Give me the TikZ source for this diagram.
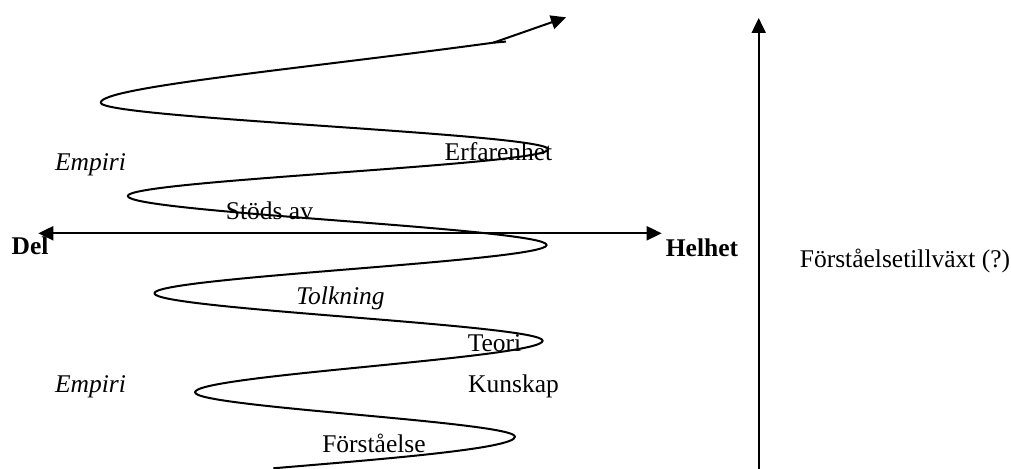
\documentclass[tikz,border=0pt]{standalone}
\usepackage{fontspec}
\setmainfont{Liberation Serif}
\usetikzlibrary{arrows.meta}
\tikzset{
  lbl/.style={inner sep=0pt, anchor=base, font=\fontsize{12.75}{15}\selectfont},
  lbli/.style={lbl, font=\fontsize{12.75}{15}\selectfont\itshape},
  lblb/.style={lbl, font=\fontsize{12.75}{15}\selectfont\bfseries},
  axis/.style={line width=1pt, -{Triangle[length=7.5pt,width=7pt]}},
  biaxis/.style={line width=1pt, {Triangle[length=7.5pt,width=7pt]}-{Triangle[length=7.5pt,width=7pt]}},
  spiral/.style={line width=1pt, line join=round}
}
\begin{document}
\begin{tikzpicture}[x=0.5pt,y=-0.5pt]
\useasboundingbox (0,0) rectangle (1011,469);
% spiral turning points
\coordinate (P0) at (273.3,468.3);
\coordinate (R5) at (515,436.7);
\coordinate (L4) at (195,392.3);
\coordinate (R4) at (542.7,340.7);
\coordinate (L3) at (154.3,293.3);
\coordinate (R3) at (546.7,245);
\coordinate (L2) at (127.7,196);
\coordinate (R2) at (548.3,149.3);
\coordinate (L1) at (100.7,102.7);
\coordinate (E)  at (493.3,42.7);
\coordinate (Eh) at (506,41.6);
\coordinate (T)  at (566,17.3);
% axes
\coordinate (hl) at (38.3,233.3);
\coordinate (hr) at (661.7,233.3);
\coordinate (vb) at (758.7,469);
\coordinate (vt) at (758.7,18);
\draw[biaxis] (hl) -- (hr);
\draw[axis] (vb) -- (vt);
% spiral
\draw[spiral] (P0) .. controls (373.3,459.8) and (515,449) .. (R5)
  .. controls (515,421.9) and (195,407.1) .. (L4)
  .. controls (195,375.1) and (542.7,357.9) .. (R4)
  .. controls (542.7,324.9) and (154.3,309.1) .. (L3)
  .. controls (154.3,277.2) and (546.7,261.1) .. (R3)
  .. controls (546.7,228.7) and (127.7,212.3) .. (L2)
  .. controls (127.7,180.4) and (548.3,164.9) .. (R2)
  .. controls (548.3,133.8) and (100.7,118.2) .. (L1)
  .. controls (100.7,87.2) and (300,69) .. (E) -- (Eh);
\draw[axis] (E) -- (T);
% labels
\node[lbli] (emp1) at (90.5,171) {Empiri};
\node[lbli] (emp2) at (90.5,393) {Empiri};
\node[lbl]  (erf)  at (498.5,160.7) {Erfarenhet};
\node[lbl]  (sto)  at (269.5,220) {Stöds av};
\node[lblb] (del)  at (30,255) {Del};
\node[lblb] (hel)  at (702,256.7) {Helhet};
\node[lbli] (tol)  at (340.5,305) {Tolkning};
\node[lbl]  (teo)  at (494.5,352) {Teori};
\node[lbl]  (kun)  at (513.5,392.7) {Kunskap};
\node[lbl]  (for)  at (374,453) {Förståelse};
\node[lbl]  (fti)  at (905,268) {Förståelsetillväxt (?)};
\end{tikzpicture}
\end{document}
